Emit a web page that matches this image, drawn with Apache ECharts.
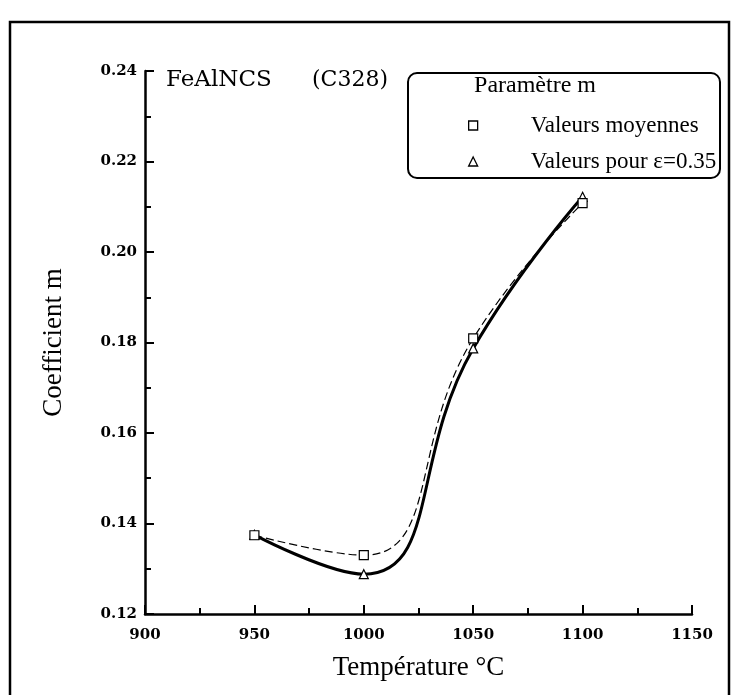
<!DOCTYPE html>
<html>
<head>
<meta charset="utf-8">
<script src="https://cdn.jsdelivr.net/npm/echarts@6/dist/echarts.min.js"></script>
<style>html,body{margin:0;padding:0;background:#fff;}#c{width:732px;height:695px;}</style>
</head>
<body>
<div id="c"></div>
<script>
const temperatures = [950, 1000, 1050, 1100];
const valeursMoyennes = [0.1374, 0.1330, 0.1809, 0.2108];
const valeursEps035 = [0.1375, 0.1288, 0.1787, 0.2122];
const yTicks = [0.12, 0.14, 0.16, 0.18, 0.20, 0.22, 0.24];
const xTicks = [900, 950, 1000, 1050, 1100, 1150];
const seriesNames = ['Valeurs moyennes', 'Valeurs pour \u03b5=0.35'];

const chart = echarts.init(document.getElementById('c'), null, {renderer: 'canvas'});
const pairs = (xs, ys) => xs.map((x, i) => [x, ys[i]]);
const tickFont = {fontFamily: 'DejaVu Serif', fontWeight: 'bold', fontSize: 15, color: '#000'};

chart.setOption({
  animation: false,
  backgroundColor: '#fff',
  grid: {left: 145, top: 71, width: 547, height: 543, containLabel: false},
  xAxis: {
    type: 'value', min: xTicks[0], max: xTicks[xTicks.length - 1], interval: 50,
    axisLine: {show: true, lineStyle: {color: '#000', width: 2.5}},
    axisTick: {show: true, inside: true, length: 9, lineStyle: {color: '#000', width: 2}},
    minorTick: {show: true, splitNumber: 2, length: 6, lineStyle: {color: '#000', width: 2}},
    splitLine: {show: false},
    axisLabel: Object.assign({margin: 14, formatter: v => String(v)}, tickFont),
    name: 'Température °C', nameLocation: 'middle', nameGap: 40,
    nameTextStyle: {fontFamily: 'Liberation Serif', fontSize: 27, color: '#000'}
  },
  yAxis: {
    type: 'value', min: yTicks[0], max: yTicks[yTicks.length - 1], interval: 0.02,
    axisLine: {show: true, lineStyle: {color: '#000', width: 2.5}},
    axisTick: {show: true, inside: true, length: 9, lineStyle: {color: '#000', width: 2}},
    minorTick: {show: true, splitNumber: 2, length: 6, lineStyle: {color: '#000', width: 2}},
    splitLine: {show: false},
    axisLabel: Object.assign({margin: 8, formatter: v => v.toFixed(2)}, tickFont),
    name: 'Coefficient m', nameLocation: 'middle', nameGap: 78, nameRotate: 90,
    nameTextStyle: {fontFamily: 'Liberation Serif', fontSize: 27, color: '#000'}
  },
  legend: {
    orient: 'vertical', left: 463, top: 109, itemGap: 13,
    itemWidth: 9, itemHeight: 9,
    data: [{name: seriesNames[0], icon: 'rect'}, {name: seriesNames[1], icon: 'triangle'}],
    itemStyle: {color: '#fff', borderColor: '#000', borderWidth: 1.3},
    textStyle: {fontFamily: 'Liberation Serif', fontSize: 23, color: '#000', padding: [0, 0, 0, 48]}
  },
  graphic: [
    {type: 'rect', shape: {x: 10, y: 22, width: 719, height: 700}, style: {fill: 'none', stroke: '#000', lineWidth: 2.5}, silent: true},
    {type: 'rect', shape: {x: 408, y: 73, width: 312, height: 105, r: 9}, style: {fill: 'none', stroke: '#000', lineWidth: 2}, silent: true},
    {type: 'text', x: 535, y: 86, style: {text: 'Paramètre m', font: '24px "Liberation Serif"', fill: '#000', textAlign: 'center', textVerticalAlign: 'middle'}, silent: true},
    {type: 'text', x: 166, y: 80, style: {text: 'FeAlNCS', font: '23px "DejaVu Serif"', fill: '#000', textAlign: 'left', textVerticalAlign: 'middle'}, silent: true},
    {type: 'text', x: 312, y: 80, style: {text: '(C328)', font: '22px "DejaVu Serif"', fill: '#000', textAlign: 'left', textVerticalAlign: 'middle'}, silent: true}
  ],
  series: [
    {
      name: seriesNames[0], type: 'line', smooth: 0.5,
      data: pairs(temperatures, valeursMoyennes),
      symbol: 'rect', symbolSize: 9,
      itemStyle: {color: '#fff', borderColor: '#000', borderWidth: 1.2},
      lineStyle: {color: '#000', width: 1.2, type: [8, 4]},
      z: 3
    },
    {
      name: seriesNames[1], type: 'line', smooth: 0.5,
      data: pairs(temperatures, valeursEps035),
      symbol: 'triangle', symbolSize: 9,
      itemStyle: {color: '#fff', borderColor: '#000', borderWidth: 1.2},
      lineStyle: {color: '#000', width: 3},
      z: 2
    }
  ]
});
</script>
</body>
</html>
